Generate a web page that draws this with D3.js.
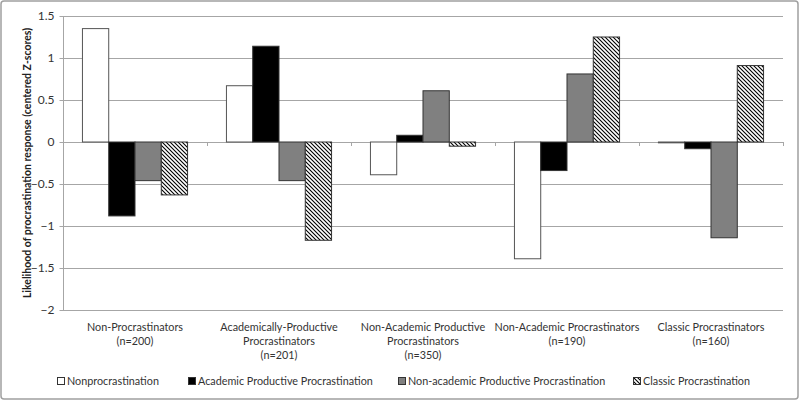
<!DOCTYPE html>
<html><head><meta charset="utf-8">
<script src="https://cdn.jsdelivr.net/npm/d3@7"></script>
<style>body{margin:0;background:#fff}svg{display:block;font-family:Lato,"Open Sans",sans-serif}</style>
</head><body><svg id="c" width="800" height="401"></svg>
<script>
const categories = [["Non-Procrastinators","(n=200)"],["Academically-Productive","Procrastinators","(n=201)"],["Non-Academic Productive","Procrastinators","(n=350)"],["Non-Academic Procrastinators","(n=190)"],["Classic Procrastinators","(n=160)"]];
const seriesNames = ["Nonprocrastination","Academic Productive Procrastination","Non-academic Productive Procrastination","Classic Procrastination"];
const nonprocrastination = [1.35, 0.67, -0.39, -1.39, -0.01];
const academicProductive = [-0.88, 1.14, 0.08, -0.34, -0.08];
const nonacademicProductive = [-0.46, -0.46, 0.61, 0.81, -1.14];
const classicProcrastination = [-0.63, -1.17, -0.05, 1.25, 0.91];
const yTicks = [1.5, 1, 0.5, 0, -0.5, -1, -1.5, -2];
const yTitle = "Likelihood of procrastination response  (centered Z-scores)";

const series = [nonprocrastination, academicProductive, nonacademicProductive, classicProcrastination];
const fills = ["#ffffff", "#000000", "#808080", "url(#hatch)"];

const svg = d3.select("#c");
const defs = svg.append("defs");
const pat = defs.append("pattern").attr("id","hatch").attr("patternUnits","userSpaceOnUse")
  .attr("width",4).attr("height",4);
pat.append("rect").attr("width",4).attr("height",4).attr("fill","#fff");
pat.append("path").attr("d","M-1,-1 L5,5 M-1,3 L1,5 M3,-1 L5,1").attr("stroke","#000").attr("stroke-width",1.1);

svg.append("rect").attr("x",1).attr("y",1).attr("width",797).attr("height",398).attr("rx",3)
  .attr("fill","#fff").attr("stroke","#a0a0a0").attr("stroke-width",1.5);

const x0 = d3.scaleBand().domain(d3.range(categories.length)).range([63,783]).paddingInner(0).paddingOuter(0);
const x1 = d3.scaleBand().domain(d3.range(series.length)).range([0, x0.bandwidth()]).paddingOuter(0.74);
const y = d3.scaleLinear().domain([-2,1.5]).range([310,16]);

// gridlines
svg.append("g").selectAll("line").data(yTicks).join("line")
  .attr("x1",63).attr("x2",783).attr("y1",d=>Math.round(y(d))+0.5).attr("y2",d=>Math.round(y(d))+0.5)
  .attr("stroke","#a6a6a6").attr("stroke-width",1);

// y axis
const yAxis = d3.axisLeft(y).tickValues(yTicks).tickSize(4).tickFormat(d3.format("")).tickSizeOuter(0);
const gy = svg.append("g").attr("transform","translate(63.5,0)").call(yAxis);
gy.select(".domain").attr("stroke","#a6a6a6").attr("d","M0,"+y(1.5)+"V"+(y(-2)+0.5));
gy.selectAll(".tick line").attr("stroke","#a6a6a6");
gy.selectAll(".tick text").attr("x",-9).attr("font-size",12).attr("fill","#333").attr("font-family","Lato, 'Open Sans', sans-serif");

// category ticks at zero line
svg.append("g").selectAll("line").data(d3.range(categories.length+1)).join("line")
  .attr("x1",i=>Math.round(63+i*x0.bandwidth())+0.5).attr("x2",i=>Math.round(63+i*x0.bandwidth())+0.5)
  .attr("y1",y(0)).attr("y2",y(0)+4).attr("stroke","#a6a6a6");

// bars
const g = svg.append("g");
categories.forEach((c,ci)=>{
  series.forEach((s,si)=>{
    const v = s[ci];
    g.append("rect")
      .attr("x", x0(ci)+x1(si))
      .attr("width", x1.bandwidth())
      .attr("y", y(Math.max(0,v)))
      .attr("height", Math.abs(y(v)-y(0)))
      .attr("fill", fills[si])
      .attr("stroke", si===0 ? "#555" : "#333")
      .attr("stroke-width", 1);
  });
});

// category labels
const cl = svg.append("g").attr("font-size",10.8).attr("fill","#333").attr("text-anchor","middle");
categories.forEach((lines,ci)=>{
  lines.forEach((t,li)=>{
    cl.append("text").attr("x", x0(ci)+x0.bandwidth()/2).attr("y", 331+li*14).text(t);
  });
});

// y title
svg.append("text").attr("transform","translate(31,"+((y(1.5)+y(-2))/2)+") rotate(-90)")
  .attr("text-anchor","middle").attr("font-size",10.5).attr("font-weight","bold").attr("fill","#222")
  .text(yTitle);

// legend
const legX = [57, 188, 398, 633];
const lg = svg.append("g").attr("font-size",10.8).attr("fill","#333");
seriesNames.forEach((n,i)=>{
  lg.append("rect").attr("x",legX[i]+0.5).attr("y",377.5).attr("width",7).attr("height",7)
    .attr("fill",fills[i]).attr("stroke","#333");
  lg.append("text").attr("x",legX[i]+10).attr("y",385).text(n);
});
</script></body></html>
